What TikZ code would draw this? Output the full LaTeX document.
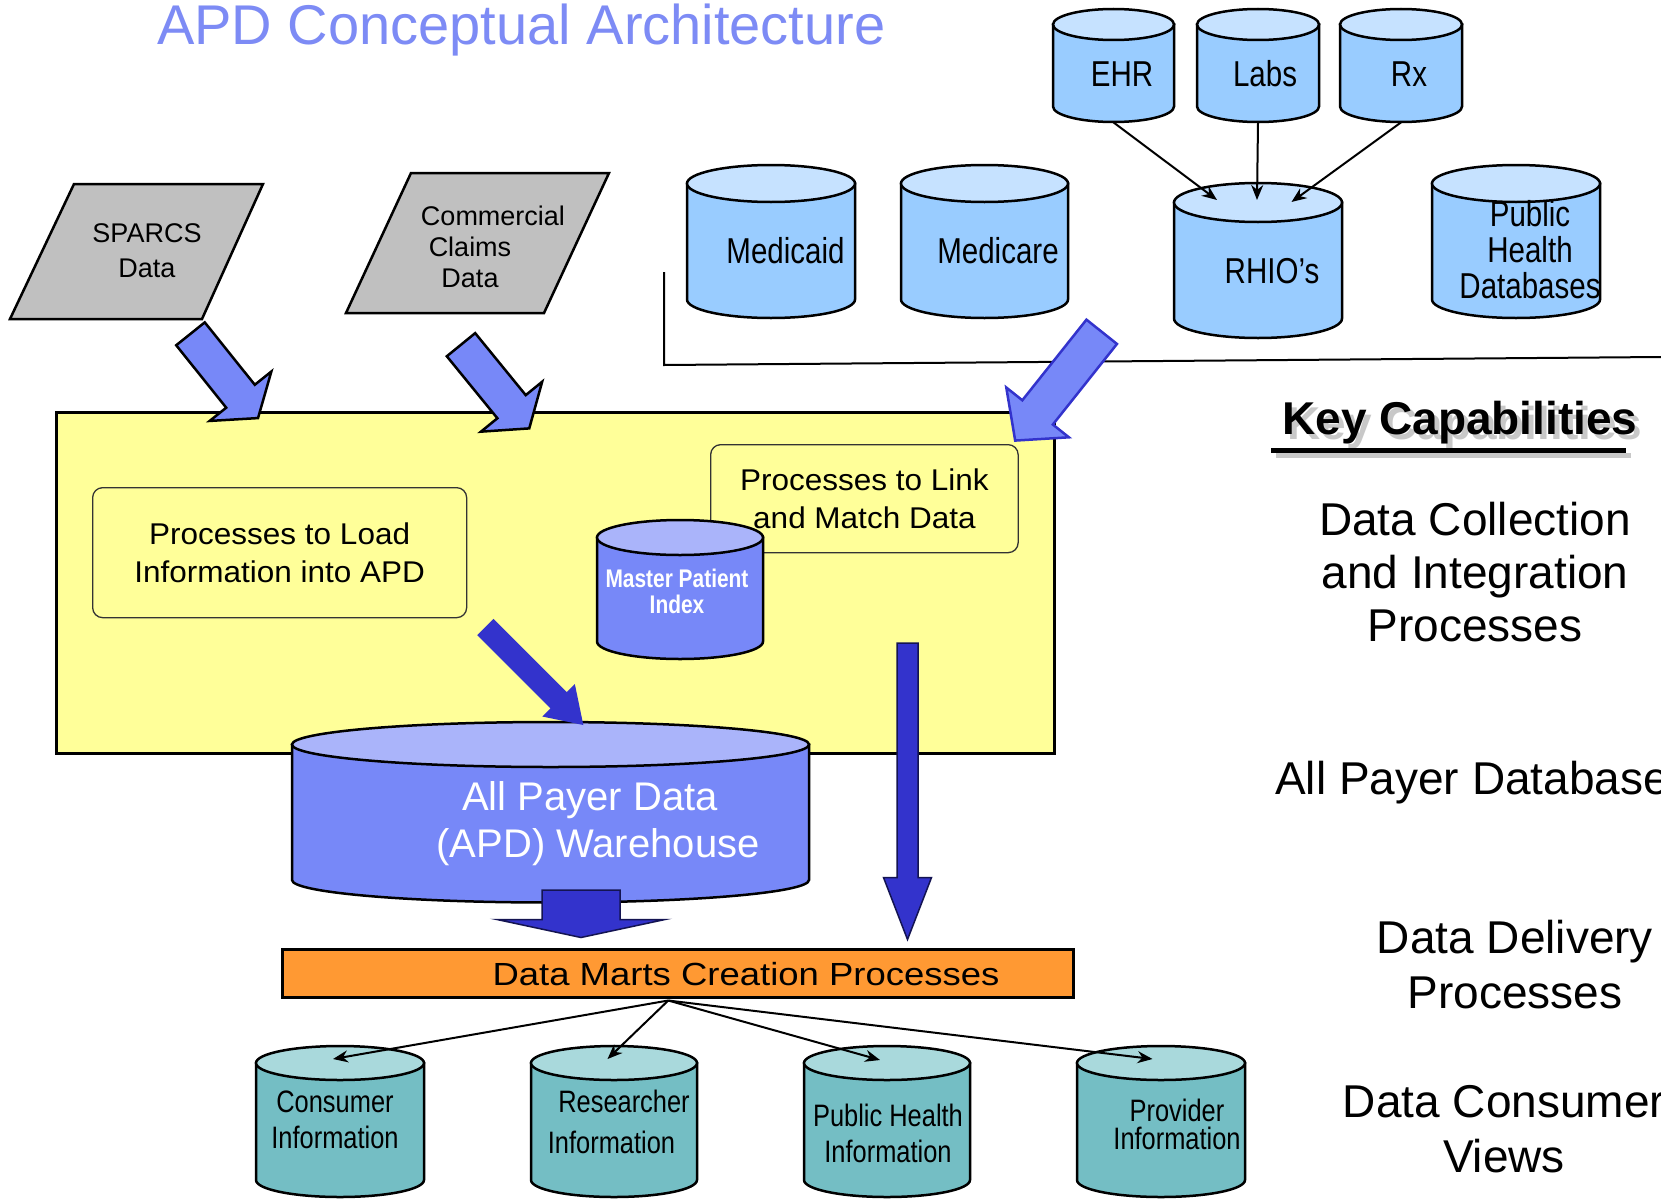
\documentclass[tikz,border=0pt]{standalone}
\usepackage{fontspec}
\setmainfont{Liberation Sans}
\newfontfamily\narrowsf[FakeStretch=0.82]{Liberation Sans}
\newfontfamily\widesf[FakeStretch=1.14]{Liberation Sans}
\newfontfamily\boxsf[FakeStretch=1.05]{Liberation Sans}
\usetikzlibrary{arrows.meta}

\definecolor{ttl}{HTML}{7D8BF5}
\definecolor{boxyellow}{HTML}{FFFF99}
\definecolor{skyblue}{HTML}{99CCFF}
\definecolor{skytop}{HTML}{C6E2FF}
\definecolor{peri}{HTML}{7788F8}
\definecolor{peritop}{HTML}{AAB4FA}
\definecolor{navy}{HTML}{3333CC}
\definecolor{tealbody}{HTML}{74BEC4}
\definecolor{tealtop}{HTML}{A9D9DC}
\definecolor{orng}{HTML}{FF9933}
\definecolor{srcgray}{HTML}{C0C0C0}

% database cylinder: name, centre x, x radius, top y, bottom y, y radius, body colour, lid colour
\newcommand\dbcyl[8]{%
  \path[cylline, fill=#7] (#2-#3,#4+#6) -- (#2-#3,#5-#6)
    arc[start angle=180, end angle=0, x radius=#3, y radius=#6] -- (#2+#3,#4+#6) -- cycle;
  \path[cylline, fill=#8] (#2,#4+#6) ellipse[x radius=#3, y radius=#6];
  \node[inner sep=0, minimum width=2*#3, minimum height=#5-#4, anchor=north] (#1) at (#2,#4) {};
}
% block arrow: style, tail x, tail y, angle, length, shaft width, head width, head length
\newcommand\blockarrow[8]{%
  \path[#1, shift={(#2,#3)}, rotate=#4]
    (0,-#6/2) -- (#5-#8,-#6/2) -- (#5-#8,-#7/2) -- (#5,0) -- (#5-#8,#7/2) -- (#5-#8,#6/2) -- (0,#6/2) -- cycle;
}

\begin{document}
\begin{tikzpicture}[x=1pt, y=-1pt,
  cylline/.style={draw=black, line width=2.5},
  lbl/.style={anchor=base, align=center, inner sep=0},
  toplbl/.style={lbl, font=\narrowsf\fontsize{36}{36}\selectfont},
  botlbl/.style={lbl, font=\narrowsf\fontsize{31}{36}\selectfont},
  srcshape/.style={fill=srcgray, draw=black, line width=2.5},
  procbox/.style={draw=black!80, line width=1.3, rounded corners=10, fill=boxyellow,
    align=center, inner sep=0, anchor=north west, font=\boxsf\fontsize{30}{38}\selectfont},
  fatlight/.style={fill=peri, draw=black, line width=2.5},
  fatlightb/.style={fill=peri, draw=navy, line width=2.5},
  fatdark/.style={fill=navy},
  fatdarkb/.style={fill=navy, draw=black!60!navy, line width=1.5},
  conn/.style={line width=2, -{Stealth[length=15pt, width=12pt]}},
  sidetxt/.style={lbl, font=\fontsize{46}{53}\selectfont}
]
\useasboundingbox (0,0) rectangle (1661,1199);
\fill[white] (0,0) rectangle (1661,1199);

% heading
\node[anchor=base west, inner sep=0, text=ttl, font=\fontsize{56}{60}\selectfont] (title) at (157,45) {APD Conceptual Architecture};

% source feeds
\path[srcshape] (74,184) -- (263,184) -- (202,319) -- (10,319) -- cycle;
\node[lbl, font=\fontsize{27}{35}\selectfont] (sparcs) at (147,277) {SPARCS\\Data};
\path[srcshape] (411,173) -- (609,173) -- (544,313) -- (346,313) -- cycle;
\node[lbl, font=\fontsize{27}{31}\selectfont] (claims) at (470,287) {\hspace*{46pt}Commercial\\Claims\\Data};

% upstream databases
\dbcyl{ehr}{1113.5}{60.5}{9}{122}{15.5}{skyblue}{skytop}
\dbcyl{labs}{1258}{61}{9}{122}{15.5}{skyblue}{skytop}
\dbcyl{rx}{1401}{61}{9}{122}{15.5}{skyblue}{skytop}
\node[toplbl] (ehr-l) at (1122,86) {EHR};
\node[toplbl] (labs-l) at (1265,86) {Labs};
\node[toplbl] (rx-l) at (1409,86) {Rx};

\dbcyl{medicaid}{771}{84}{165}{318}{18.5}{skyblue}{skytop}
\dbcyl{medicare}{984.5}{83.5}{165}{318}{18.5}{skyblue}{skytop}
\dbcyl{rhio}{1258}{84}{183}{338}{19.5}{skyblue}{skytop}
\dbcyl{phdb}{1516}{84}{165}{318}{18.5}{skyblue}{skytop}
\node[toplbl] (medicaid-l) at (785.5,263) {Medicaid};
\node[toplbl] (medicare-l) at (998,263) {Medicare};
\node[toplbl] (rhio-l) at (1272,283) {RHIO’s};
\node[toplbl] (phdb-l) at (1530,298) {Public\\Health\\Databases};

\draw[conn] (ehr.south) -- ([shift={(-41,17)}]rhio.north);
\draw[conn] (labs.south) -- ([shift={(-1,17)}]rhio.north);
\draw[conn] (rx.south) -- ([shift={(33.5,19)}]rhio.north);

% bracket under the external sources
\draw[line width=2] (664,272) -- (664,365) -- (1661,357);

% collection and integration zone
\node[draw, line width=2.5, fill=boxyellow, minimum width=998, minimum height=341,
  anchor=north west, inner sep=0] (zone) at (55,411) {};
\node[procbox, minimum width=374, minimum height=130] (load) at (92,487) {Processes to Load\\Information into APD};
\node[procbox, minimum width=307.5, minimum height=108] (link) at (710,444) {Processes to Link\\and Match Data};

\dbcyl{mpi}{680}{83}{520}{659}{17.5}{peri}{peritop}
\node[lbl, text=white, font=\narrowsf\bfseries\fontsize{25.5}{26}\selectfont] (mpi-l) at (677,613) {Master Patient\\Index};

\dbcyl{apd}{550.5}{258.5}{722}{902.5}{22.5}{peri}{peritop}
\node[lbl, text=white, font=\fontsize{40}{47}\selectfont] (apd-l) at (598,857) {All Payer Data\hspace*{16pt}\\(APD) Warehouse};

% feed arrows
\blockarrow{fatlight}{190.5}{333.8}{-51.3}{108}{36.6}{79}{28}
\blockarrow{fatlight}{461}{344.7}{-50.8}{108}{36.6}{79}{28}
\blockarrow{fatlightb}{1101.7}{331.8}{-128.5}{139}{39}{80}{36}
\blockarrow{fatdark}{485.3}{627}{-45}{138.6}{23}{46}{35}
\blockarrow{fatdarkb}{907.5}{643}{-90}{296.5}{21}{48}{62}

% data marts
\node[draw, line width=2.5, fill=orng, minimum width=791, minimum height=48,
  anchor=north west, inner sep=0] (marts) at (281,948) {};
\node[lbl, font=\widesf\fontsize{32}{36}\selectfont] (marts-l) at (746,985) {Data Marts Creation Processes};
\blockarrow{fatdarkb}{581}{890}{-90}{47.5}{78}{168}{18}

% consumer views
\dbcyl{consumer}{340}{84}{1046}{1197}{17}{tealbody}{tealtop}
\dbcyl{research}{614}{83}{1046}{1197}{17}{tealbody}{tealtop}
\dbcyl{pubhealth}{887}{83}{1046}{1197}{17}{tealbody}{tealtop}
\dbcyl{provider}{1161}{84}{1046}{1197}{17}{tealbody}{tealtop}
\node[botlbl] (consumer-l) at (335,1148) {Consumer\\Information};
\node[botlbl] (research-l) at (611.5,1153) {\hspace*{25pt}Researcher\\[5pt]Information};
\node[botlbl] (pubhealth-l) at (888,1162) {Public Health\\Information};
\node[botlbl, font=\narrowsf\fontsize{31}{28}\selectfont] (provider-l) at (1177,1149) {Provider\\Information};

\coordinate (hub) at ([shift={(-9.5,2)}]marts.south);
\draw[conn] (hub) -- ([shift={(-7,13)}]consumer.north);
\draw[conn] (hub) -- ([shift={(-6.5,13)}]research.north);
\draw[conn] (hub) -- ([shift={(-7,14)}]pubhealth.north);
\draw[conn] (hub) -- ([shift={(-8.5,13)}]provider.north);

% key capabilities column
\node[anchor=base west, inner sep=0, text=black!30, opacity=0.7, font=\bfseries\fontsize{46}{50}\selectfont] at (1287,439) {Key Capabilities};
\draw[line width=5, black!30, opacity=0.7] (1276,455) -- (1631,455);
\node[anchor=base west, inner sep=0, font=\bfseries\fontsize{46}{50}\selectfont] (keycap) at (1282,434) {Key Capabilities};
\draw[line width=5] (1271,450) -- (1626,450);

\node[sidetxt] (cap1) at (1475,641) {Data Collection\\and Integration\\Processes};
\node[anchor=base west, inner sep=0, font=\fontsize{46}{53}\selectfont] (cap2) at (1275,794.5) {All Payer Database};
\node[sidetxt, font=\fontsize{46}{55}\selectfont] (cap3) at (1515,1008) {Data Delivery\\Processes};
\node[sidetxt, font=\fontsize{46}{55}\selectfont] (cap4) at (1504,1172.6) {Data Consumer\\Views};
\end{tikzpicture}
\end{document}
